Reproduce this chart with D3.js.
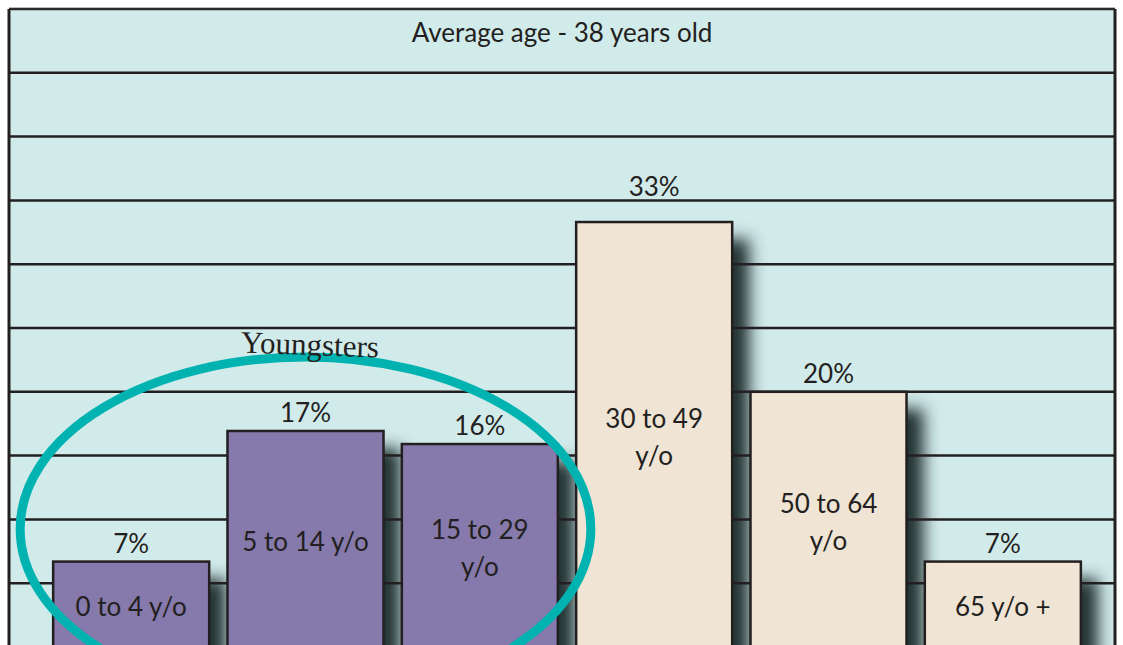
<!DOCTYPE html>
<html>
<head>
<meta charset="utf-8">
<script src="https://cdn.jsdelivr.net/npm/d3@7"></script>
<style>
  body { margin: 0; background: #fff; }
  text { font-family: Lato, "Open Sans", sans-serif; fill: #231f20; }
</style>
</head>
<body>
<svg width="1123" height="645"></svg>
<script>
// values
var groups = ["0 to 4 y/o", "5 to 14 y/o", "15 to 29 y/o", "30 to 49 y/o", "50 to 64 y/o", "65 y/o +"];
var labelLines = [["0 to 4 y/o"], ["5 to 14 y/o"], ["15 to 29", "y/o"], ["30 to 49", "y/o"], ["50 to 64", "y/o"], ["65 y/o +"]];
var shares = [7, 17, 16, 33, 20, 7];
var isYoung = [true, true, true, false, false, false];
var title = "Average age - 38 years old";
var circledLabel = "Youngsters";

var data = groups.map(function(g, i) {
  return {group: g, lines: labelLines[i], value: shares[i], young: isYoung[i]};
});

var svg = d3.select("svg"),
    plotLeft = 9, plotRight = 1115, plotTop = 9;

var x = d3.scaleBand().domain(groups).range([44, 1090]).paddingInner(0.105).paddingOuter(0.0525),
    y = d3.scaleLinear().domain([0, 50]).range([653, 0]),
    grid = d3.scaleLinear().domain([0, 10]).range([647, plotTop]);
var gridYs = d3.range(0, 10).map(grid);

var defs = svg.append("defs");
defs.append("filter").attr("id", "blur")
    .attr("filterUnits", "userSpaceOnUse")
    .attr("x", 0).attr("y", 0).attr("width", 1123).attr("height", 700)
  .append("feGaussianBlur").attr("stdDeviation", 8);

// background
svg.append("rect")
    .attr("x", plotLeft).attr("y", plotTop)
    .attr("width", plotRight - plotLeft).attr("height", 700)
    .attr("fill", "#d1eaea");

// bar shadows
svg.append("g")
    .attr("filter", "url(#blur)")
  .selectAll("rect")
    .data(data)
  .enter().append("rect")
    .attr("x", function(d) { return x(d.group) + 17; })
    .attr("y", function(d) { return y(d.value) + 17; })
    .attr("width", x.bandwidth())
    .attr("height", function(d) { return y(0) - y(d.value) + 20; })
    .attr("fill", "#243030");

// horizontal grid lines
svg.append("g").selectAll("line")
    .data(gridYs)
  .enter().append("line")
    .attr("x1", plotLeft).attr("x2", plotRight)
    .attr("y1", function(d) { return d; })
    .attr("y2", function(d) { return d; })
    .attr("stroke", "#231f20")
    .attr("stroke-width", 2.5);

// frame
svg.append("line").attr("x1", plotLeft).attr("x2", plotRight).attr("y1", plotTop).attr("y2", plotTop)
    .attr("stroke", "#2b2b2b").attr("stroke-width", 2.5);
svg.append("line").attr("x1", plotLeft).attr("x2", plotRight).attr("y1", plotTop - 1.5).attr("y2", plotTop - 1.5)
    .attr("stroke", "#bdbdbd").attr("stroke-width", 1);
svg.append("line").attr("x1", plotLeft).attr("x2", plotLeft).attr("y1", plotTop).attr("y2", 645)
    .attr("stroke", "#231f20").attr("stroke-width", 3);
svg.append("line").attr("x1", plotRight).attr("x2", plotRight).attr("y1", plotTop).attr("y2", 645)
    .attr("stroke", "#231f20").attr("stroke-width", 3);

// bars
svg.append("g").selectAll("rect")
    .data(data)
  .enter().append("rect")
    .attr("x", function(d) { return x(d.group); })
    .attr("y", function(d) { return y(d.value); })
    .attr("width", x.bandwidth())
    .attr("height", function(d) { return y(0) - y(d.value); })
    .attr("fill", function(d) { return d.young ? "#857aab" : "#f0e4d5"; })
    .attr("stroke", "#231f20")
    .attr("stroke-width", 2.5);

// value labels, lifted above a grid line when they would cross it
function labelBase(d) {
  var base = y(d.value) - 9;
  gridYs.forEach(function(g) {
    if (g < base && g > base - 19) base = g - 4;
  });
  return base;
}
svg.append("g").selectAll("text")
    .data(data)
  .enter().append("text")
    .attr("x", function(d) { return x(d.group) + x.bandwidth() / 2; })
    .attr("y", labelBase)
    .attr("text-anchor", "middle")
    .style("font-size", "26px")
    .text(function(d) { return d.value + "%"; });

// category labels inside bars
var inner = svg.append("g").selectAll("text")
    .data(data)
  .enter().append("text")
    .attr("text-anchor", "middle")
    .style("font-size", "26px")
    .attr("transform", function(d) {
      var mid = (y(d.value) + y(0)) / 2;
      var first = mid - (d.lines.length - 1) * 37 / 2;
      return "translate(" + (x(d.group) + x.bandwidth() / 2) + "," + first + ")";
    });
inner.selectAll("tspan")
    .data(function(d) { return d.lines; })
  .enter().append("tspan")
    .attr("x", 0)
    .attr("y", function(d, i) { return i * 37; })
    .attr("dy", "0.35em")
    .text(function(d) { return d; });

// title in top band
svg.append("text")
    .attr("x", (plotLeft + plotRight) / 2)
    .attr("y", grid(10) + 24)
    .attr("dy", "0.35em")
    .attr("text-anchor", "middle")
    .style("font-size", "26px")
    .text(title);

// circle around the young groups
var youngGroups = data.filter(function(d) { return d.young; });
var x0 = x(youngGroups[0].group),
    x1 = x(youngGroups[youngGroups.length - 1].group) + x.bandwidth();
svg.append("ellipse")
    .attr("cx", (x0 + x1) / 2)
    .attr("cy", 529)
    .attr("rx", (x1 - x0) / 2 + 33)
    .attr("ry", 172)
    .attr("fill", "none")
    .attr("stroke", "#00b3b1")
    .attr("stroke-width", 9);

svg.append("text")
    .attr("transform", "translate(" + ((x0 + x1) / 2 + 4) + ",355) rotate(2)")
    .attr("text-anchor", "middle")
    .style("font-family", "'Liberation Serif', serif")
    .style("font-size", "31px")
    .text(circledLabel);
</script>
</body>
</html>
